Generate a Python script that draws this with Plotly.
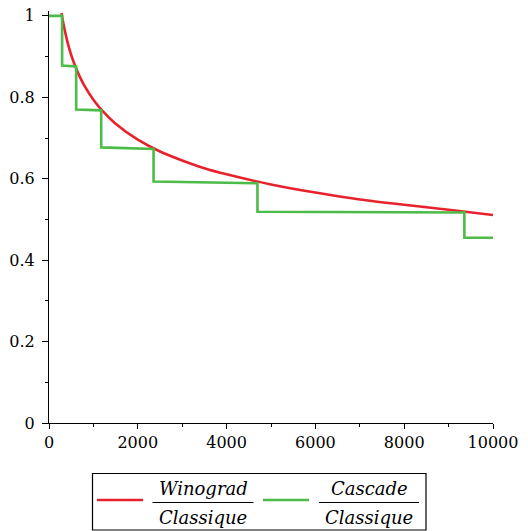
import plotly.graph_objects as go

# ---- data ----
winograd_x = [283, 293, 350, 400, 450, 500, 600, 700, 800, 1000, 1200, 1500, 2000,
              2500, 3000, 3500, 4000, 5000, 6000, 7000, 8000, 9000, 10000]
winograd_y = [1.007, 1.0, 0.967, 0.943, 0.922, 0.904, 0.874, 0.849, 0.828, 0.794,
              0.767, 0.735, 0.696, 0.667, 0.645, 0.626, 0.611, 0.586, 0.566, 0.549,
              0.536, 0.524, 0.511]

cascade_x = [0, 295, 295, 612, 612, 1176, 1176, 2355, 2355, 4695, 4695, 9355, 9355, 10000]
cascade_y = [1.0, 1.0, 0.878, 0.876, 0.770, 0.768, 0.677, 0.673, 0.593, 0.589,
             0.519, 0.517, 0.455, 0.455]

x_ticks = [0, 2000, 4000, 6000, 8000, 10000]
y_ticks = [0, 0.2, 0.4, 0.6, 0.8, 1]
y_tick_labels = ["0", "0.2", "0.4", "0.6", "0.8", "1"]

RED = "#e8222b"
GREEN = "#4cbb47"

W, H = 528, 531
ML, MR, MT, MB = 49, 35, 11, 108
PW, PH = W - ML - MR, H - MT - MB


def px(x):
    return (x - ML) / PW


def py(y):
    return (H - MB - y) / PH


fig = go.Figure()
fig.add_trace(go.Scatter(x=winograd_x, y=winograd_y, mode="lines",
                         line=dict(color=RED, width=2.6, shape="spline", smoothing=0.6),
                         showlegend=False))
fig.add_trace(go.Scatter(x=cascade_x, y=cascade_y, mode="lines",
                         line=dict(color=GREEN, width=2.6),
                         showlegend=False))

tickfont = dict(family="DejaVu Serif", size=16, color="black")

fig.update_xaxes(range=[0, 10000], tickvals=x_ticks, ticktext=[str(v) for v in x_ticks],
                 showline=True, linecolor="black", linewidth=1.2,
                 ticks="outside", ticklen=5, tickcolor="black", tickwidth=1.2,
                 minor=dict(dtick=1000, ticks="outside", ticklen=3, tickcolor="black", tickwidth=1.2),
                 showgrid=False, zeroline=False, tickfont=tickfont, automargin=False)
fig.update_yaxes(range=[0, 1.012], tickvals=y_ticks, ticktext=y_tick_labels,
                 showline=True, linecolor="black", linewidth=1.2,
                 ticks="outside", ticklen=6, tickcolor="black", tickwidth=1.2,
                 minor=dict(dtick=0.1, ticks="outside", ticklen=3, tickcolor="black", tickwidth=1.2),
                 showgrid=False, zeroline=False, tickfont=tickfont, ticklabelstandoff=4,
                 automargin=False)

# ---- manual legend with fractions ----
shapes = [
    dict(type="rect", xref="paper", yref="paper", x0=px(92.5), x1=px(426), y0=py(530), y1=py(473.5),
         line=dict(color="black", width=1.2), fillcolor="white"),
    dict(type="line", xref="paper", yref="paper", x0=px(97), x1=px(143), y0=py(500), y1=py(500),
         line=dict(color=RED, width=2.5)),
    dict(type="line", xref="paper", yref="paper", x0=px(152.5), x1=px(253.5), y0=py(502.5), y1=py(502.5),
         line=dict(color="black", width=1.2)),
    dict(type="line", xref="paper", yref="paper", x0=px(263), x1=px(309), y0=py(500), y1=py(500),
         line=dict(color=GREEN, width=2.5)),
    dict(type="line", xref="paper", yref="paper", x0=px(319), x1=px(419), y0=py(502.5), y1=py(502.5),
         line=dict(color="black", width=1.2)),
]
legfont = dict(family="DejaVu Serif", size=18, color="black")
annotations = []
for cx, num in [(203, "Winograd"), (369, "Cascade")]:
    annotations.append(dict(xref="paper", yref="paper", x=px(cx), y=py(489), text=f"<i>{num}</i>",
                            showarrow=False, xanchor="center", yanchor="middle", font=legfont))
    annotations.append(dict(xref="paper", yref="paper", x=px(cx), y=py(517), text="<i>Classique</i>",
                            showarrow=False, xanchor="center", yanchor="middle", font=legfont))

fig.update_layout(width=W, height=H, margin=dict(l=ML, r=MR, t=MT, b=MB),
                  plot_bgcolor="white", paper_bgcolor="white",
                  shapes=shapes, annotations=annotations, showlegend=False)

fig.write_html("out.html", config={"displayModeBar": False},
               post_script="document.body.style.margin='0';document.body.style.overflow='hidden';")
